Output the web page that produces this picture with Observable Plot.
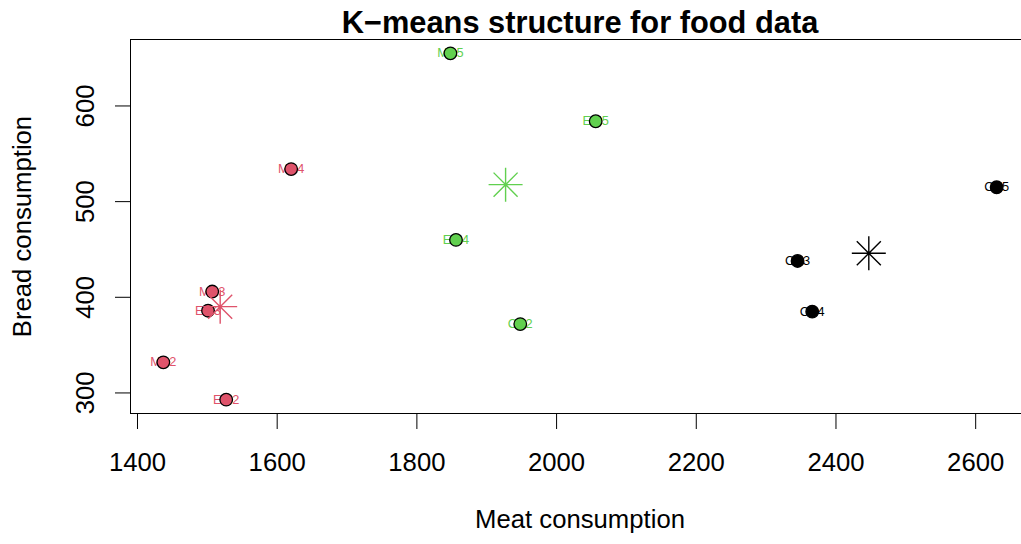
<!DOCTYPE html>
<html><head><meta charset="utf-8">
<script src="https://cdn.jsdelivr.net/npm/d3@7"></script>
<script src="https://cdn.jsdelivr.net/npm/@observablehq/plot@0.6"></script>
<style>body{margin:0;background:#fff} svg{display:block}</style>
</head><body><div id="chart"></div>
<script>
const labels = ["MA2","EM2","CA2","MA3","EM3","CA3","MA4","EM4","CA4","MA5","EM5","CA5"];
const meat   = [1437, 1527, 1948, 1507, 1501, 2345, 1620, 1856, 2366, 1848, 2056, 2630];
const bread  = [332, 293, 372, 406, 386, 438, 534, 460, 385, 655, 584, 515];
const cluster = ["1","1","2","1","1","3","1","2","3","2","2","3"];
const centerCluster = ["1","2","3"];
const centerMeat  = [1518.4, 1927, 2447];
const centerBread = [390.2, 517.75, 446];
const clusterColors = ["#DF536B", "#61D04F", "#000000"];
const xTicks = [1400, 1600, 1800, 2000, 2200, 2400, 2600];
const yTicks = [300, 400, 500, 600];
const title = "K\u2212means structure for food data";
const xLabel = "Meat consumption";
const yLabel = "Bread consumption";

const data = labels.map((l, i) => ({label: l, meat: meat[i], bread: bread[i], cluster: cluster[i]}));
const centers = centerCluster.map((c, i) => ({cluster: c, meat: centerMeat[i], bread: centerBread[i]}));

const asterisk = {draw(ctx, size) {
  const r = Math.sqrt(size / Math.PI);
  const d = r * Math.SQRT1_2;
  ctx.moveTo(-r, 0); ctx.lineTo(r, 0);
  ctx.moveTo(0, -r); ctx.lineTo(0, r);
  ctx.moveTo(-d, -d); ctx.lineTo(d, d);
  ctx.moveTo(-d, d); ctx.lineTo(d, -d);
}};

const fs = 25.7;
const chart = Plot.plot({
  width: 1021, height: 544,
  marginLeft: 130, marginRight: 0, marginTop: 39, marginBottom: 131,
  style: {fontFamily: "'Liberation Sans', Arial, sans-serif", background: "white", color: "black"},
  x: {domain: [1390, 2665.6]},
  y: {domain: [278.52, 669.48]},
  color: {domain: centerCluster, range: clusterColors},
  marks: [
    Plot.frame({anchor: "top", stroke: "black"}),
    Plot.frame({anchor: "bottom", stroke: "black"}),
    Plot.frame({anchor: "left", stroke: "black"}),
    Plot.axisX({ticks: xTicks, tickSize: 16, tickFormat: () => "", stroke: "black", label: null}),
    Plot.axisY({ticks: yTicks, tickSize: 15, tickFormat: () => "", stroke: "black", label: null}),
    Plot.text(xTicks, {x: d => d, text: d => String(d), frameAnchor: "bottom", dy: 39, lineAnchor: "top", fontSize: fs, fill: "black"}),
    Plot.text(yTicks, {y: d => d, text: d => String(d), frameAnchor: "left", dx: -37, rotate: -90, textAnchor: "middle", lineAnchor: "bottom", fontSize: fs, fill: "black"}),
    Plot.text([xLabel], {text: d => d, frameAnchor: "bottom", dy: 114, dx: 4, lineAnchor: "bottom", fontSize: fs, fill: "black"}),
    Plot.text([yLabel], {text: d => d, frameAnchor: "left", dx: -100, rotate: -90, textAnchor: "middle", lineAnchor: "bottom", fontSize: fs, fill: "black"}),
    Plot.text([title], {text: d => d, frameAnchor: "top", dy: -7, dx: 4, lineAnchor: "bottom", fontSize: 30.8, fontWeight: "bold", fill: "black"}),
    Plot.text(data, {x: "meat", y: "bread", text: "label", fill: "cluster", fontSize: 12.8, lineAnchor: "middle", textAnchor: "middle"}),
    Plot.dot(data, {x: "meat", y: "bread", fill: "cluster", stroke: "black", strokeWidth: 1.3, r: 6.3}),
    Plot.dot(centers, {x: "meat", y: "bread", stroke: "cluster", fill: "none", symbol: asterisk, r: 17, strokeWidth: 1.4})
  ]
});
document.getElementById("chart").appendChild(chart);
</script>
</body></html>
